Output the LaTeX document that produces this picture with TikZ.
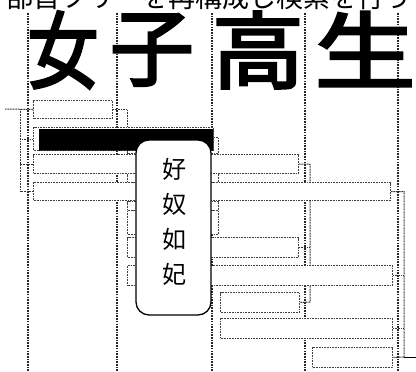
\documentclass[tikz,border=0pt]{standalone}
\usepackage{fontspec}
\newfontfamily\cjk{Noto Sans CJK JP}
\newfontfamily\cjkbig[FakeBold=3]{Noto Sans CJK JP}
\pgfdeclarelayer{background}
\pgfsetlayers{background,main}
\tikzset{
  colline/.style={draw=black!85, line width=1.8pt, dash pattern=on 1.6pt off 1.1pt},
  tbox/.style={draw=black!75, fill=white, line width=1pt, dash pattern=on 1pt off 0.6pt,
    rectangle, inner sep=0pt, anchor=north west},
  conn/.style={draw=black!80, line width=1pt, dash pattern=on 1pt off 0.6pt},
  big/.style={font=\cjkbig\fontsize{84}{84}\selectfont, inner sep=0pt},
  callbox/.style={draw=black, fill=white, line width=1.3pt, rounded corners=13pt, inner sep=0pt},
}
\newcommand\tbx[6][]{\node[tbox,#1, minimum width={#5-#3}, minimum height={#6-#4}] (#2) at (#3,#4) {};}
\begin{document}
\begin{tikzpicture}[x=1pt,y=-1pt]
\useasboundingbox (0,0) rectangle (416,372);
% top line of text (cut by the top edge, as in the reference)
\node[font=\cjk\fontsize{27}{27}\selectfont, anchor=base, inner sep=0pt] (top) at (209,7) {部首ツリーを再構成し検索を行う};
% big characters
\node[big] (k1) at (63,50) {\scalebox{0.85}[1]{女}};
\node[big] (k2) at (152,50) {子};
\node[big] (k3) at (258,50) {\scalebox{1.1}[1]{高}};
\node[big] (k4) at (365,49) {\scalebox{1.2}[1]{生}};
% boxes
\tbx{c2a}{127}{137}{218}{153}
\tbx{c2b}{127}{173}{218}{182}
\tbx{c2c}{127}{201}{218}{210}
\tbx{c2d}{127}{210}{218}{234}
\tbx{A}{33}{100}{112}{118}
\tbx[path picture={\fill[black] ([xshift=5pt,yshift=-1pt]path picture bounding box.north west) rectangle (path picture bounding box.south east);}]{B}{33}{127}{213}{150}
\tbx{C}{33}{154}{298}{173}
\tbx{D}{33}{182}{390}{200}
\tbx{E}{127}{237}{298}{257}
\tbx{F}{127}{265}{392}{285}
\tbx{G}{220}{292}{299}{312}
\tbx{H}{220}{318}{392}{338}
\tbx{I}{312}{347}{392}{367}
% column lines and connectors
\begin{pgfonlayer}{background}
\foreach \cx in {28,117,212,305,398} \draw[colline] (\cx,13) -- (\cx,372);
\coordinate (root) at (5,109);
\coordinate (bus1) at (20,109);
\draw[conn] (root) -- (A.west);
\draw[conn] (bus1) |- (B.west);
\draw[conn] (bus1) |- (C.west);
\draw[conn] (bus1) |- (D.west);
\draw[conn] (A.east) -| (c2a.west |- C.north);
\coordinate (cb) at (310,302);
\draw[conn] (C.east) -| (cb) -- (G.east);
\draw[conn] (E.east) -- (E.east -| cb);
\coordinate (db) at (404,357);
\draw[conn] (D.east) -| (db) -- (I.east);
\draw[conn] (F.east) -- (F.east -| db);
\draw[conn] (H.east) -- (H.east -| db);
\coordinate (out) at (416,357);
\draw[black, line width=0.8pt] (db) -- (out);
\end{pgfonlayer}
% callout
\node[callbox, minimum width=75, minimum height=175] (K) at (173.5,227.5) {};
\node[font=\cjk\fontsize{24}{35}\selectfont, align=center, inner sep=0pt] (Kt) at (174,222) {好\\奴\\如\\妃};
\end{tikzpicture}
\end{document}
